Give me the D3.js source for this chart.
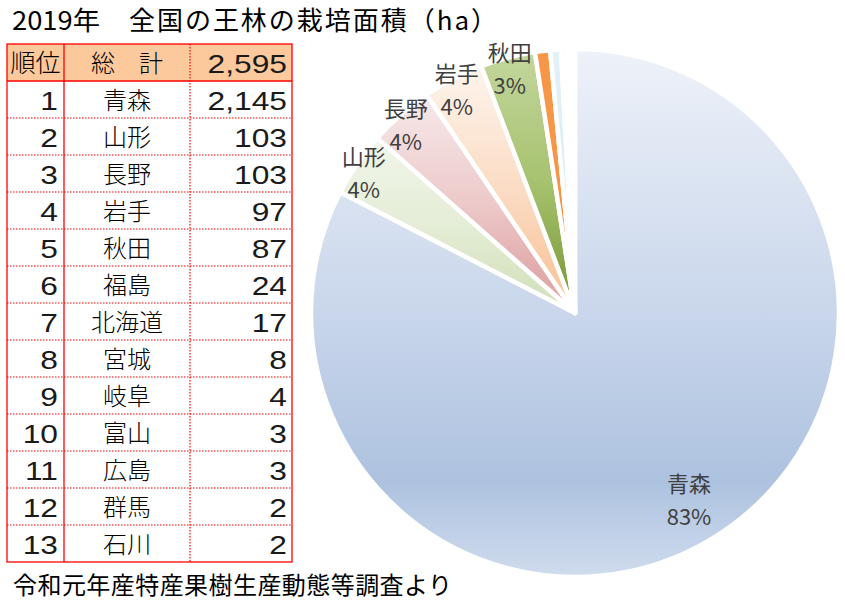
<!DOCTYPE html>
<html><head><meta charset="utf-8">
<script src="https://cdn.jsdelivr.net/npm/d3@7"></script>
<style>
html,body{margin:0;padding:0;background:#fff;}
svg{display:block;}
</style></head>
<body>
<script>
// ---- data ----
const titleYear = "2019年";
const titleMain = "全国の王林の栽培面積（ha）";
const source = "令和元年産特産果樹生産動態等調査より";
const headerLabels = ["順位", "総　計"];
const total = 2595;
const ranks = [1,2,3,4,5,6,7,8,9,10,11,12,13];
const prefectures = ["青森","山形","長野","岩手","秋田","福島","北海道","宮城","岐阜","富山","広島","群馬","石川"];
const values = [2145,103,103,97,87,24,17,8,4,3,3,2,2];
const percentLabels = ["83%","4%","4%","4%","3%","","","","","","","",""];
const showLabel = [true,true,true,true,true,false,false,false,false,false,false,false,false];

// gradient colours per slice [top, mid, lower, bottom]
const sliceColors = [
  ["#eef2f9","#c9d6eb","#adc2df","#d0dcee"],
  ["#f1f6ea","#e4edd6","#d6e4c1","#d3e2bd"],
  ["#f7e9ea","#edc9c9","#e1aaab","#dfa6a6"],
  ["#fef4ec","#fbdcc4","#f9c9a2","#f8c59b"],
  ["#c3d69d","#a7c26f","#86a447","#789a3c"],
  ["#f79646","#f79646","#f58a35","#f58a35"],
  ["#e3f2f7","#d9edf4","#d0e8f1","#cde6f0"],
  ["#f5f9fb","#f2f7fa","#eff5f9","#eff5f9"],
  ["#f7fafc","#f5f9fb","#f3f7fa","#f3f7fa"],
  ["#fbfdfe","#f9fbfd","#f7fafc","#f7fafc"],
  ["#fbfcfd","#f9fbfc","#f8fafc","#f8fafc"],
  ["#fcfdfe","#fbfcfd","#fafbfd","#fafbfd"],
  ["#fdfdfe","#fcfcfd","#fbfcfd","#fbfcfd"]
];

const W = 845, H = 607;
const svg = d3.select("body").append("svg").attr("width", W).attr("height", H);
const defs = svg.append("defs");
const jp = "'Noto Sans CJK JP', sans-serif";
const numFont = "'Liberation Sans', Arial, sans-serif";

// ---- title ----
svg.append("text").attr("x", 12).attr("y", 30)
  .attr("font-family", jp).attr("font-size", 26).attr("fill", "#000")
  .attr("textLength", 88).attr("lengthAdjust", "spacingAndGlyphs").text(titleYear);
svg.append("text").attr("x", 129).attr("y", 30)
  .attr("font-family", jp).attr("font-size", 26).attr("fill", "#000")
  .attr("textLength", 368).attr("lengthAdjust", "spacing").text(titleMain);

// ---- table ----
const tX = [7, 64, 190, 292];
const tTop = 44, rowH = 37;
const nRows = ranks.length + 1;
const yRow = d3.scaleLinear().domain([0, nRows]).range([tTop, tTop + rowH * nRows]);
const tbl = svg.append("g");
tbl.append("rect").attr("x", tX[0]).attr("y", yRow(0)).attr("width", tX[3]-tX[0]).attr("height", rowH)
  .attr("fill", "#fbc99b");
const red = "#ff0000";
for (let i = 2; i < nRows; i++) {
  tbl.append("line").attr("x1", tX[0]).attr("x2", tX[3]).attr("y1", yRow(i)).attr("y2", yRow(i))
    .attr("stroke", red).attr("stroke-width", 1.2).attr("stroke-dasharray", "1.5,1.5");
}
tbl.append("line").attr("x1", tX[2]).attr("x2", tX[2]).attr("y1", yRow(0)).attr("y2", yRow(nRows))
  .attr("stroke", red).attr("stroke-width", 1.2).attr("stroke-dasharray", "1.5,1.5");
tbl.append("line").attr("x1", tX[0]).attr("x2", tX[3]).attr("y1", yRow(1)).attr("y2", yRow(1))
  .attr("stroke", red).attr("stroke-width", 1.3);
tbl.append("line").attr("x1", tX[1]).attr("x2", tX[1]).attr("y1", yRow(0)).attr("y2", yRow(nRows))
  .attr("stroke", red).attr("stroke-width", 1.3);
tbl.append("rect").attr("x", tX[0]).attr("y", yRow(0)).attr("width", tX[3]-tX[0]).attr("height", yRow(nRows)-yRow(0))
  .attr("fill", "none").attr("stroke", red).attr("stroke-width", 1.3);

function numText(x, y, str) {
  tbl.append("text").attr("transform", `translate(${x},${y}) scale(1.27,1)`)
    .attr("text-anchor", "end").attr("font-family", numFont).attr("font-size", 25)
    .attr("fill", "#1a1a1a").text(str);
}
const fmt = d3.format(",");
tbl.append("text").attr("x", (tX[0]+tX[1])/2).attr("y", yRow(0) + 28).attr("text-anchor", "middle")
  .attr("font-family", jp).attr("font-weight", 300).attr("font-size", 25).attr("fill", "#000").text(headerLabels[0]);
tbl.append("text").attr("x", (tX[1]+tX[2])/2).attr("y", yRow(0) + 28).attr("text-anchor", "middle")
  .attr("font-family", jp).attr("font-weight", 300).attr("font-size", 24).attr("fill", "#000").text(headerLabels[1]);
numText(tX[3]-5, yRow(0) + 29, fmt(total));
ranks.forEach((r, i) => {
  const yb = yRow(i+1) + 29;
  numText(tX[1]-6, yb, String(r));
  tbl.append("text").attr("x", (tX[1]+tX[2])/2).attr("y", yb - 1).attr("text-anchor", "middle")
    .attr("font-family", jp).attr("font-weight", 300).attr("font-size", 24).attr("fill", "#000").text(prefectures[i]);
  numText(tX[3]-5, yb, fmt(values[i]));
});

// ---- pie ----
const cx = 575, cy = 313, R = 264;
const pie = d3.pie().sort(null).value(d => d)(values);
const arc = d3.arc().innerRadius(0).outerRadius(R);
const g = svg.append("g").attr("transform", `translate(${cx},${cy})`);
pie.forEach((p, i) => {
  const c = sliceColors[i];
  const grad = defs.append("linearGradient").attr("id", "grad" + i)
    .attr("x1", 0).attr("y1", 0).attr("x2", 0).attr("y2", 1);
  grad.append("stop").attr("offset", "0").attr("stop-color", c[0]);
  grad.append("stop").attr("offset", "0.5").attr("stop-color", c[1]);
  grad.append("stop").attr("offset", "0.82").attr("stop-color", c[2]);
  grad.append("stop").attr("offset", "1").attr("stop-color", c[3]);
});
g.selectAll("path.slice").data(pie).join("path").attr("class", "slice")
  .attr("d", arc).attr("fill", (d, i) => `url(#grad${i})`)
  .attr("stroke", "#fff").attr("stroke-width", 4.5).attr("stroke-linejoin", "round");

// labels
const labelArcOuter = d3.arc().innerRadius(256).outerRadius(256);
const labelArcInner = d3.arc().innerRadius(219).outerRadius(219);
pie.forEach((p, i) => {
  if (!showLabel[i]) return;
  const inner = i === 0;
  const [lx, ly] = (inner ? labelArcInner : labelArcOuter).centroid(p);
  const t = g.append("text").attr("text-anchor", "middle").attr("font-family", jp)
    .attr("font-size", 22).attr("fill", "#404040");
  t.append("tspan").attr("x", lx).attr("y", ly + (inner ? -8 : -4)).text(prefectures[i]);
  t.append("tspan").attr("x", lx).attr("y", ly + (inner ? 25 : 29)).text(percentLabels[i]);
});

// ---- source ----
svg.append("text").attr("x", 13).attr("y", 594)
  .attr("font-family", jp).attr("font-size", 24).attr("fill", "#000")
  .attr("textLength", 439).attr("lengthAdjust", "spacing").text(source);
</script>
</body></html>
